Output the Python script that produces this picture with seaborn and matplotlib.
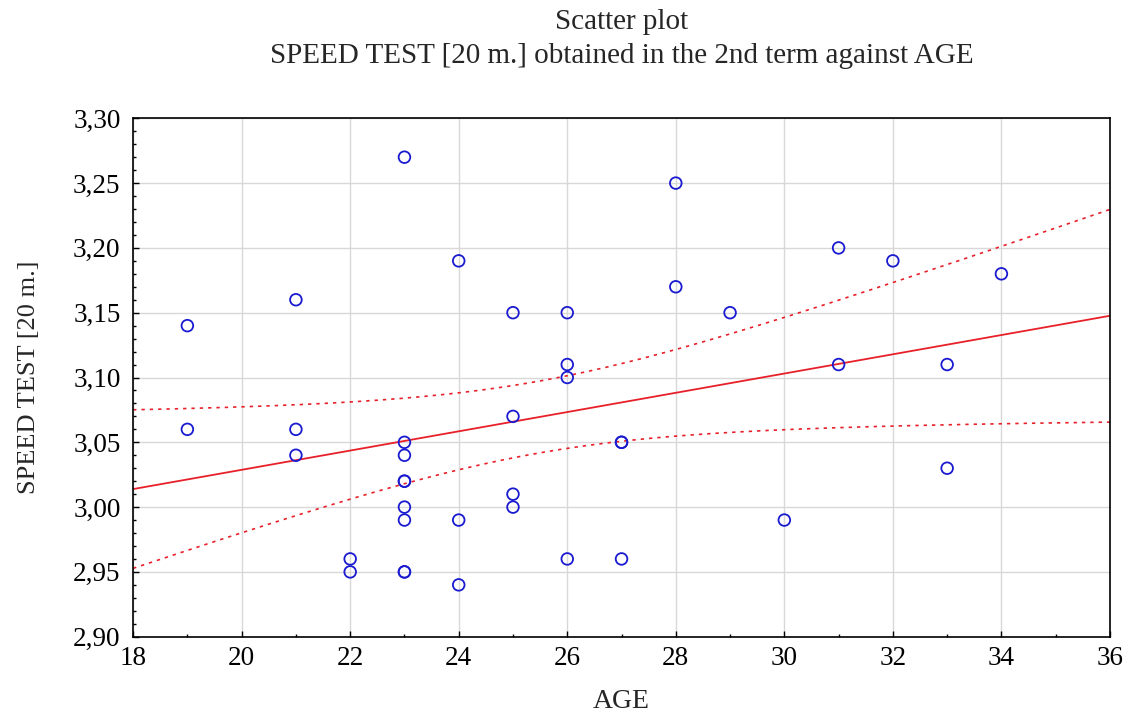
import numpy as np
import pandas as pd
import seaborn as sns
import matplotlib
matplotlib.use('Agg')
from matplotlib import pyplot as plt
import matplotlib.ticker as ticker

age = [19, 19, 21, 21, 21, 22, 22,
       23, 23, 23, 23, 23, 23, 23, 23, 23,
       24, 24, 24, 25, 25, 25, 25, 26, 26, 26, 26,
       27, 27, 27, 28, 28, 29, 30, 31, 31, 32, 33, 33, 34]
speed = [3.14, 3.06, 3.16, 3.06, 3.04, 2.96, 2.95,
         3.27, 3.05, 3.04, 3.02, 3.02, 3.00, 2.99, 2.95, 2.95,
         3.19, 2.99, 2.94, 3.15, 3.07, 3.01, 3.00, 3.15, 3.11, 3.10, 2.96,
         3.05, 3.05, 2.96, 3.25, 3.17, 3.15, 2.99, 3.20, 3.11, 3.19, 3.11, 3.03, 3.18]

df = pd.DataFrame({'AGE': age, 'SPEED': speed})

sns.set_theme(style='white')
plt.rcParams['font.family'] = ['Liberation Serif', 'DejaVu Serif']

fig = plt.figure(figsize=(11.28, 7.17), dpi=100)
ax = fig.add_axes([0.118, 0.112, 0.866, 0.723])

# linear fit with 95% confidence band for the mean
x = df['AGE'].to_numpy(float)
y = df['SPEED'].to_numpy(float)
n = len(x)
b, a = np.polyfit(x, y, 1)
resid = y - (a + b * x)
s = np.sqrt((resid ** 2).sum() / (n - 2))
t = 2.024  # t(0.975, df=38)
xs = np.linspace(18, 36, 200)
fit = a + b * xs
se = s * np.sqrt(1 / n + (xs - x.mean()) ** 2 / ((x - x.mean()) ** 2).sum())
fit_df = pd.DataFrame({'AGE': xs, 'fit': fit, 'lo': fit - t * se, 'hi': fit + t * se})

sns.lineplot(data=fit_df, x='AGE', y='fit', color='#e8202a', lw=1.3, ax=ax, zorder=2)
sns.lineplot(data=fit_df, x='AGE', y='lo', color='#e8202a', lw=1.2, ls=(0, (2, 3)), ax=ax, zorder=2)
sns.lineplot(data=fit_df, x='AGE', y='hi', color='#e8202a', lw=1.2, ls=(0, (2, 3)), ax=ax, zorder=2)
sns.scatterplot(data=df, x='AGE', y='SPEED', marker='o', s=70, facecolors='none',
                edgecolor='#1a1ad0', linewidth=1.3, ax=ax, zorder=3)

ax.set_xlim(18, 36)
ax.set_ylim(2.90, 3.30)
ax.xaxis.set_major_locator(ticker.MultipleLocator(2))
ax.xaxis.set_minor_locator(ticker.MultipleLocator(1))
ax.yaxis.set_major_locator(ticker.MultipleLocator(0.05))
ax.yaxis.set_minor_locator(ticker.MultipleLocator(0.01))
ax.yaxis.set_major_formatter(ticker.FuncFormatter(lambda v, p: f'{v:.2f}'.replace('.', ',')))
ax.grid(True, which='major', color='#d8d8d8', lw=1.0)
ax.tick_params(which='both', direction='in', left=True, bottom=True, colors='black', labelsize=19.5)
ax.tick_params(which='major', length=4, width=1)
ax.tick_params(which='minor', length=2, width=1)
ax.tick_params(axis='y', which='major', pad=9)
ax.tick_params(axis='x', which='major', pad=7)
for sp in ax.spines.values():
    sp.set_color('black')
    sp.set_linewidth(1.2)

ax.set_xlabel('AGE', fontsize=20, labelpad=13)
ax.set_ylabel('SPEED TEST [20 m.]', fontsize=19, labelpad=24)
fig.suptitle('Scatter plot\nSPEED TEST [20 m.] obtained in the 2nd term against AGE',
             fontsize=21, x=0.551, y=0.988, linespacing=1.4)

fig.savefig('out.png', dpi=100)
